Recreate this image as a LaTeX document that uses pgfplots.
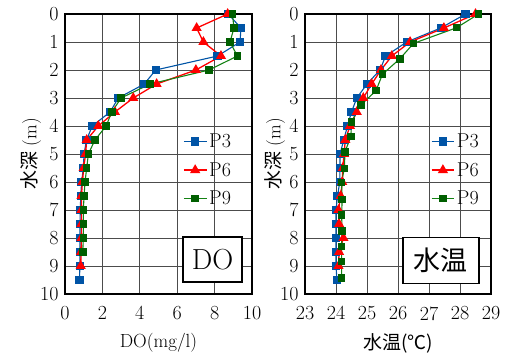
\documentclass[border=0pt]{standalone}
\usepackage{fontspec}
\usepackage{pgfplots}
\pgfplotsset{compat=1.18}
\newfontfamily\cjk{Noto Sans CJK JP}
\definecolor{cblue}{RGB}{0,84,166}
\definecolor{cred}{RGB}{255,0,0}
\definecolor{cgreen}{RGB}{0,95,0}
\definecolor{cgreenl}{RGB}{20,130,20}
\pgfplotsset{
  myax/.style={
    anchor=south west, scale only axis, height=280pt,
    ymin=0, ymax=10, y dir=reverse, ytick={0,1,...,10},
    grid=major, major grid style={draw=black!70, line width=0.9pt},
    axis line style={line width=1.5pt},
    major tick length=0pt,
    /pgf/number format/assume math mode=true,
    tick label style={font=\fontsize{20}{22}\selectfont},
    xticklabel style={yshift=-9pt},
    yticklabel style={xshift=-3pt},
    label style={font=\fontsize{19}{21}\selectfont},
    xlabel style={yshift=-6pt},
    ylabel style={yshift=-8pt},
    legend style={draw=none, fill=none, anchor=north west, font=\fontsize{20}{22}\selectfont, row sep=9.5pt, inner sep=2pt},
    legend cell align=left,
    legend image code/.code={\draw[mark repeat=2,mark phase=2] plot coordinates {(0cm,0cm)(0.4cm,0cm)(0.8cm,0cm)};},
    clip=false,
  },
  s3/.style={color=cblue, line width=1.1pt, mark=square*, mark size=3.6pt, mark options={fill=cblue, draw=cblue}},
  s6/.style={color=cred, line width=1.3pt, mark=triangle*, mark size=4.6pt, mark options={fill=cred, draw=cred}},
  s9/.style={color=cgreenl, line width=1.1pt, mark=square*, mark size=3.2pt, mark options={fill=cgreen, draw=cgreen}},
}
\begin{document}
\begin{tikzpicture}
\useasboundingbox (0,0) rectangle (517pt,354pt);
\begin{axis}[myax, at={(65pt,60pt)}, width=187pt,
  xmin=0, xmax=10, xtick={0,2,...,10},
  xlabel={DO(mg/l)}, ylabel={{\cjk 水深} (m)},
  legend style={at={(0.62,0.587)}, nodes={right, xshift=8pt}}]
\addplot[s3] table[x=v,y=d] {
d v
0 8.73
0.5 9.41
1 9.36
1.5 8.16
2 4.85
2.5 4.24
3 2.85
3.5 2.41
4 1.46
4.5 1.15
5 1.02
5.5 0.98
6 0.89
6.5 0.84
7 0.82
7.5 0.80
8 0.80
8.5 0.80
9 0.80
9.5 0.77
};
\addlegendentry{P3}
\addplot[s6] table[x=v,y=d] {
d v
0 8.70
0.5 7.04
1 7.40
1.5 8.34
2 7.00
2.5 4.90
3 3.65
3.5 2.67
4 1.78
4.5 1.16
5 1.10
5.5 1.00
6 0.93
6.5 0.88
7 0.88
7.5 0.88
8 0.88
8.5 0.86
9 0.84
};
\addlegendentry{P6}
\addplot[s9] table[x=v,y=d] {
d v
0 8.95
0.5 9.04
1 8.82
1.5 9.22
2 7.70
2.5 4.55
3 3.00
3.5 2.50
4 2.20
4.5 1.60
5 1.25
5.5 1.16
6 1.07
6.5 1.02
7 0.98
7.5 0.98
8 0.98
8.5 0.95
};
\addlegendentry{P9}
\node[draw=black, line width=1.2pt, fill=white, minimum width=59pt, minimum height=45pt, inner sep=0pt, font=\fontsize{29}{31}\selectfont] at (axis description cs:0.789,0.123) {DO};
\end{axis}
\begin{axis}[myax, at={(305pt,60pt)}, width=186pt,
  xmin=23, xmax=29, xtick={23,24,...,29},
  xlabel={{\cjk 水温(℃)}}, ylabel={{\cjk 水深} (m)},
  ylabel style={yshift=-4pt},
  legend style={at={(0.665,0.587)}, nodes={right, xshift=2pt}}]
\addplot[s3] table[x=v,y=d] {
d v
0 28.18
0.5 27.38
1 26.28
1.5 25.60
2 25.42
2.5 25.00
3 24.67
3.5 24.50
4 24.37
4.5 24.25
5 24.13
5.5 24.13
6 24.12
6.5 24.05
7 24.00
7.5 24.00
8 24.00
8.5 24.00
9 24.00
9.5 24.03
};
\addlegendentry{P3}
\addplot[s6] table[x=v,y=d] {
d v
0 28.50
0.5 27.48
1 26.39
1.5 25.80
2 25.45
2.5 25.15
3 24.88
3.5 24.67
4 24.45
4.5 24.30
5 24.26
5.5 24.22
6 24.20
6.5 24.15
7 24.08
7.5 24.10
8 24.24
8.5 24.10
9 24.08
};
\addlegendentry{P6}
\addplot[s9] table[x=v,y=d] {
d v
0 28.60
0.49 27.89
1.05 26.50
1.6 26.06
2.15 25.50
2.74 25.29
3.25 24.80
3.85 24.50
4.38 24.48
4.92 24.29
5.51 24.27
6.01 24.18
6.62 24.20
7.18 24.18
7.75 24.20
8.31 24.18
8.84 24.18
9.42 24.18
};
\addlegendentry{P9}
\node[draw=black, line width=1.2pt, fill=white, minimum width=76pt, minimum height=46pt, inner sep=0pt, font=\fontsize{27}{29}\selectfont\cjk] at (axis description cs:0.731,0.12) {水温};
\end{axis}
\end{tikzpicture}
\end{document}
